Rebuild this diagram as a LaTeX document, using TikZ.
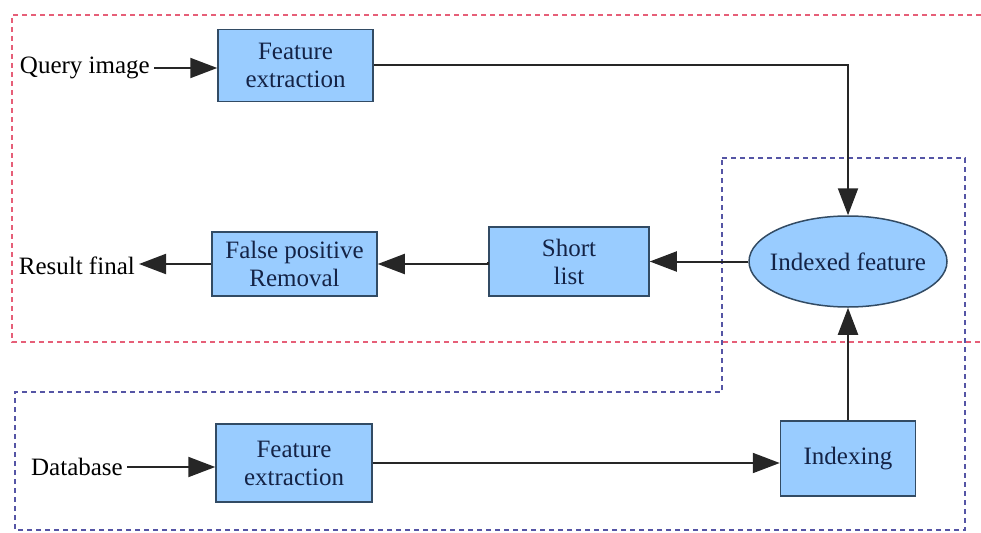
\documentclass[tikz,border=0pt]{standalone}
\usepackage{fontspec}
\setmainfont{LiberationSerif}[Extension=.ttf, UprightFont=*-Regular, BoldFont=*-Bold]
\usetikzlibrary{arrows.meta,shapes.geometric}
\definecolor{boxfill}{RGB}{153,204,255}
\definecolor{boxborder}{RGB}{50,75,100}
\definecolor{boxtext}{RGB}{20,35,70}
\definecolor{reddash}{RGB}{230,95,120}
\definecolor{bluedash}{RGB}{85,85,165}
\tikzset{
  procbox/.style={draw=boxborder, fill=boxfill, line width=1.5pt, align=center, text=boxtext, inner sep=0pt, font=\fontsize{25}{28}\selectfont},
  lbl/.style={text=black, font=\fontsize{25}{28}\selectfont, inner sep=4pt},
  conn/.style={line width=2pt, draw=black!85, -{Triangle[length=27pt,width=20pt]}},
  redbox/.style={draw=reddash, line width=1.5pt, dash pattern=on 5pt off 4pt},
  bluebox/.style={draw=bluedash, line width=1.8pt, dash pattern=on 5pt off 4pt}
}
\begin{document}
\begin{tikzpicture}[x=1pt,y=-1pt]
\useasboundingbox (0,0) rectangle (981,532);
% group outlines
\draw[redbox] (981,15) -- (12,15) -- (12,342) -- (981,342);
\draw[bluebox] (722,158) -- (965,158) -- (965,530) -- (15,530) -- (15,392) -- (722,392) -- cycle;
% nodes
\node[procbox, minimum width=155pt, minimum height=72pt] (fe1) at (295.5,65.5) {Feature\\extraction};
\node[procbox, ellipse, minimum width=198pt, minimum height=91pt] (ell) at (848,261.5) {\makebox[0pt]{Indexed feature}};
\node[procbox, minimum width=160pt, minimum height=69pt] (sl) at (569,261.5) {Short\\list};
\node[procbox, minimum width=165pt, minimum height=64pt] (fp) at (294.5,264) {False positive\\Removal};
\node[procbox, minimum width=156pt, minimum height=78pt] (fe2) at (294,463) {Feature\\extraction};
\node[procbox, minimum width=135pt, minimum height=75pt] (idx) at (848,458.5) {Indexing};
\node[lbl, anchor=east] (q) at (154,68) {Query image};
\node[lbl, anchor=east] (res) at (139,266) {Result final};
\node[lbl, anchor=east] (db) at (127,467) {Database};
% connectors
\draw[conn] (q.east) -- (q.east -| fe1.west);
\draw[conn] (fe1.east) -| (ell.north);
\draw[conn] (ell.west) -- (ell.west -| sl.east);
\draw[conn] (sl.west) -- (sl.west |- fp.east) -- (fp.east);
\draw[conn] (fp.west) -- (fp.west -| res.east);
\draw[conn] (db.east) -- (db.east -| fe2.west);
\draw[conn] (fe2.east) -- (fe2.east -| idx.west);
\draw[conn] (idx.north) -- (ell.south);
\end{tikzpicture}
\end{document}
